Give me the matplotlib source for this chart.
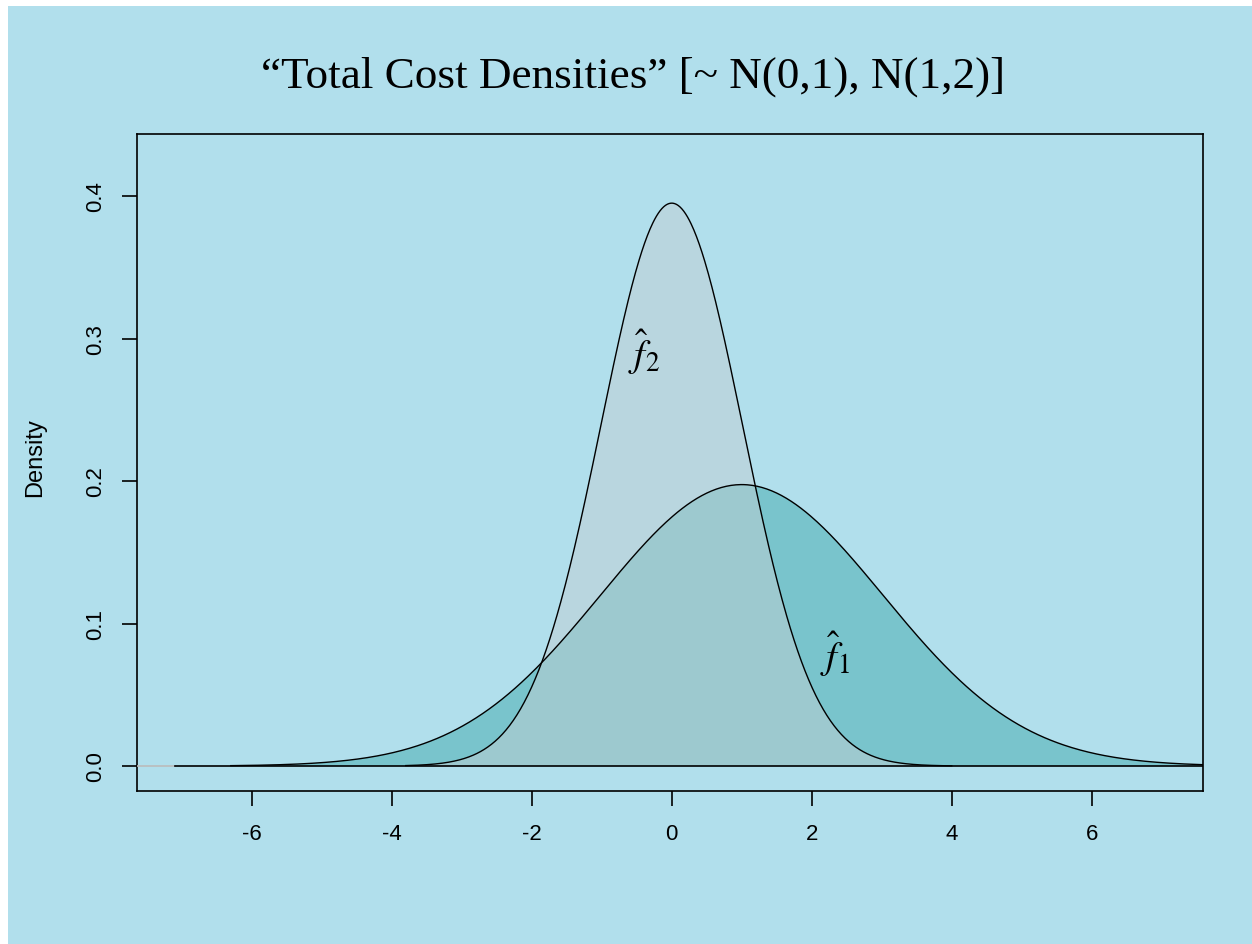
import numpy as np
import matplotlib.pyplot as plt
from matplotlib.patches import Rectangle

# estimated densities: f1 ~ N(1,2), f2 ~ N(0,1)
labels = ["$\\hat{f}_1$", "$\\hat{f}_2$"]
means = [1.0, 0.0]
sds = [2.02, 1.01]
x_ranges = [(-6.3, 7.6), (-3.8, 4.0)]
label_pos = [(2.33, 0.079), (-0.39, 0.291)]

x_ticks = [-6, -4, -2, 0, 2, 4, 6]
y_ticks = [0.0, 0.1, 0.2, 0.3, 0.4]

bg = "#b1dfec"
fills = ["#79c4cc", "#c2cfd3"]
alphas = [1.0, 0.5]


def normal_pdf(x, mu, sd):
    return np.exp(-0.5 * ((x - mu) / sd) ** 2) / (sd * np.sqrt(2 * np.pi))


def main(output_image_file):
    plt.rcParams['font.family'] = ['Liberation Sans', 'DejaVu Sans']
    plt.rcParams['mathtext.fontset'] = 'stix'

    fig = plt.figure(figsize=(12.52, 9.45), dpi=100)
    fig.patch.set_facecolor("white")
    fig.patches.append(Rectangle((8 / 1252, 0), 1 - 8 / 1252, 1 - 7 / 945,
                                 transform=fig.transFigure, facecolor=bg,
                                 edgecolor="none", zorder=-10))

    ax = fig.add_axes([137 / 1252, 1 - 792 / 945, 1066 / 1252, 657 / 945])
    ax.set_facecolor(bg)

    for i in range(2):
        lo, hi = x_ranges[i]
        xs = np.linspace(lo, hi, 600)
        ys = normal_pdf(xs, means[i], sds[i])
        ax.fill_between(xs, 0, ys, facecolor=fills[i], alpha=alphas[i],
                        edgecolor="none", zorder=2 + i)
        ax.plot(xs, ys, color="black", lw=1.0, zorder=4)

    # zero line
    ax.plot([-7.64, -7.1], [0, 0], color="#bbbbbb", lw=1.2, zorder=4)
    ax.plot([-7.1, 7.6], [0, 0], color="black", lw=1.2, zorder=4)

    for i in range(2):
        ax.text(label_pos[i][0], label_pos[i][1], labels[i], fontsize=28,
                ha="center", va="center", zorder=5)

    ax.set_xlim(-7.64, 7.59)
    ax.set_ylim(-0.0175, 0.4435)
    ax.set_xticks(x_ticks)
    ax.set_xticklabels([str(t) for t in x_ticks])
    ax.set_yticks(y_ticks)
    ax.set_yticklabels(["%.1f" % t for t in y_ticks], rotation=90, va="center")
    ax.tick_params(axis="both", direction="out", length=11, width=1.2,
                   labelsize=16, color="black")
    ax.tick_params(axis="x", pad=12)
    ax.tick_params(axis="y", pad=11)
    for s in ax.spines.values():
        s.set_linewidth(1.2)
        s.set_color("black")

    fig.text(35 / 1252, 1 - 458 / 945, "Density", rotation=90, fontsize=17,
             ha="center", va="center")
    fig.text(633 / 1252, 1 - 77 / 945,
             "\u201cTotal Cost Densities\u201d [~ N(0,1), N(1,2)]",
             fontsize=32.5, family=["Liberation Serif", "DejaVu Serif"],
             ha="center", va="center")

    plt.savefig(output_image_file, format="png", dpi=100)
    plt.close()


if __name__ == "__main__":
    main("out.png")
